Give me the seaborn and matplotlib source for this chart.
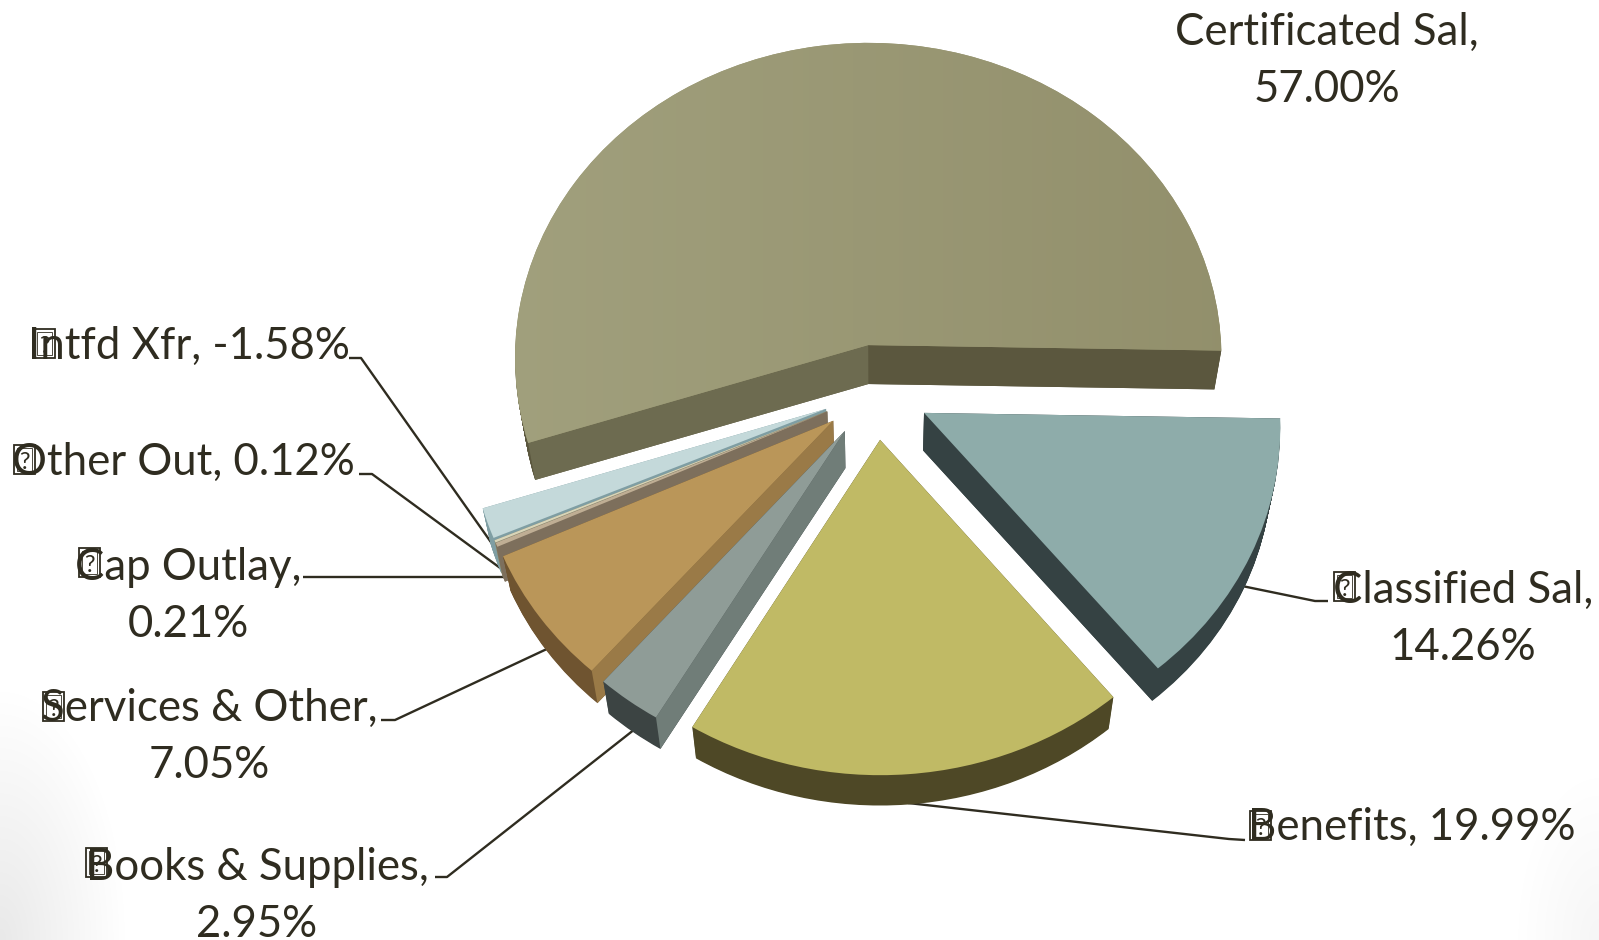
import matplotlib
matplotlib.use('Agg')
import matplotlib.pyplot as plt
from matplotlib.patches import Rectangle
from matplotlib.transforms import Affine2D, Transform
import numpy as np
import seaborn as sns

names = ['Certificated Sal', 'Classified Sal', 'Benefits', 'Books & Supplies',
         'Services & Other', 'Cap Outlay', 'Other Out', 'Intfd Xfr']
values = [57.00, 14.26, 19.99, 2.95, 7.05, 0.21, 0.12, -1.58]

top_colors = ['#9a9873', '#8eacaa', '#c0ba65', '#8f9c97', '#ba9659', '#bfae94', '#d9d5b8', '#c4d9da']
arc_colors = ['#5b573e', '#354243', '#4e4826', '#3c4443', '#6f5430', '#7d6f5c', '#8a8a70', '#7f9ea3']
cut_colors = ['#6d6b50', '#354243', '#4e4826', '#707d78', '#9a7a47', '#7d6f5c', '#8a8a70', '#7f9ea3']

W, H = 1599, 940
CX, CY = 876, 392      # pie centre in pixels
RX, RY = 355, 318      # radius in pixels
TILT = 0.04            # perspective strength
ROTATE = 1.0           # degrees clockwise from a flat first cut
DEPTH = 38
SHRINK = 0.98
TEXT = '#2f2c20'

sns.set_theme(style='white')
plt.rcParams['font.family'] = ['Lato', 'DejaVu Sans']


class Perspective(Transform):
    input_dims = output_dims = 2

    def transform_non_affine(self, values):
        pts = np.asarray(values, dtype=float)
        return pts / (1 + TILT * pts[:, 1:2])


fig = plt.figure(figsize=(W / 100, H / 100), dpi=100)

# pixel axes under the pie: background, leader lines, labels
bg = fig.add_axes([0, 0, 1, 1], zorder=0)
yy, xx = np.mgrid[0:H, 0:W]
left = np.clip(1 - np.hypot(xx / 130, (H - yy) / 260), 0, 1)
right = np.clip(1 - np.hypot((W - xx) / 90, (H - yy) / 180), 0, 1)
bg.imshow(np.maximum(left * 0.09, right * 0.04), cmap='gray_r', vmin=0, vmax=1,
          extent=(0, W, H, 0), aspect='auto')

leaders = [
    ([349, 361, 500], [358, 358, 555]),
    ([359, 372, 507], [474, 474, 573]),
    ([303, 510], [577, 577]),
    ([381, 395, 549], [720, 720, 648]),
    ([435, 447, 635], [877, 877, 729]),
    ([1328, 1315, 1242], [601, 601, 586]),
    ([1245, 1229, 908], [840, 839, 803]),
]
for lx, ly in leaders:
    bg.plot(lx, ly, color=TEXT, lw=1.7, solid_capstyle='butt')


def label(i, x, y, size=31.5):
    v = values[i]
    sep = '\n' if i in (0, 1, 3, 4, 5) else ' '
    bg.text(x, y, f'{names[i]},{sep}{v:.2f}%', ha='center', va='baseline',
            multialignment='center', fontsize=size, color=TEXT, linespacing=1.5)


label(0, 1327, 102)
label(1, 1463, 660)
label(2, 1412, 840)
label(3, 257, 937)
label(4, 209, 778)
label(5, 188, 637)
label(6, 183, 475)
label(7, 189, 359)

# missing-glyph boxes that sit over the first letter of each label
for x0, y0 in [(34, 329), (14, 445), (79, 548), (1334, 572), (1250, 811), (43, 692), (86, 848)]:
    bg.add_patch(Rectangle((x0, y0), 21, 29, fill=False, ec=TEXT, lw=1.3))
    bg.add_patch(Rectangle((x0 + 3, y0 + 3), 15, 23, fill=False, ec=TEXT, lw=0.6))
    bg.text(x0 + 10.5, y0 + 24, '?', ha='center', va='baseline', fontsize=17, color=TEXT)

bg.set_xlim(0, W)
bg.set_ylim(H, 0)
bg.axis('off')

# pie axes, data units are pie radii
ax = fig.add_axes([0, 0, 1, 1], zorder=1)
ax.patch.set_alpha(0)
sizes = np.abs(values)
start = 360 * sizes[0] / sizes.sum() - ROTATE
explode = [0.15] * len(values)
dy = DEPTH / RY
persp = Perspective()
flat = {'linewidth': 0}

LAYERS = 38
for k in range(LAYERS, 0, -1):
    f = k / LAYERS
    s = 1 - (1 - SHRINK) * f
    wedges, _ = ax.pie(sizes, explode=explode, colors=arc_colors, startangle=start,
                       counterclock=False, wedgeprops=flat)
    shift = Affine2D().scale(s).translate(0, -dy * f)
    for i, w in enumerate(wedges):
        w.set_transform(persp + shift + ax.transData)
        w.set_zorder(2 + 2 * (len(values) - i if i else 0))

tops, _ = ax.pie(sizes, explode=explode, colors=top_colors, startangle=start,
                 counterclock=False, wedgeprops=flat)
for w in tops:
    w.set_transform(persp + ax.transData)
    w.set_zorder(30)

# flat side walls along the cut edges
for i, w in enumerate(tops):
    cx, cy = w.center
    z = 3 + 2 * (len(values) - i if i else 0)
    for theta, col in ((w.theta1, arc_colors[i]), (w.theta2, cut_colors[i])):
        c, s = np.cos(np.radians(theta)), np.sin(np.radians(theta))
        upper = persp.transform(np.array([[cx, cy], [cx + c, cy + s]]))
        lower = upper[::-1] * SHRINK + [0, -dy]
        quad = np.vstack([upper, lower])
        ax.fill(quad[:, 0], quad[:, 1], color=col, lw=0, zorder=z)

# soft left to right shading on the big slice
grad = np.linspace(0, 1, 256).reshape(1, -1)
cmap = sns.blend_palette(['#a2a17e', '#918e6a'], as_cmap=True)
im = ax.imshow(grad, cmap=cmap, extent=(-1.2, 1.2, -1, 1.4), aspect='auto', zorder=31)
im.set_clip_path(tops[0])

ax.set_xlim(-CX / RX, (W - CX) / RX)
ax.set_ylim(-(H - CY) / RY, CY / RY)
ax.set_aspect('auto')
ax.axis('off')

fig.savefig('out.png', dpi=100)
